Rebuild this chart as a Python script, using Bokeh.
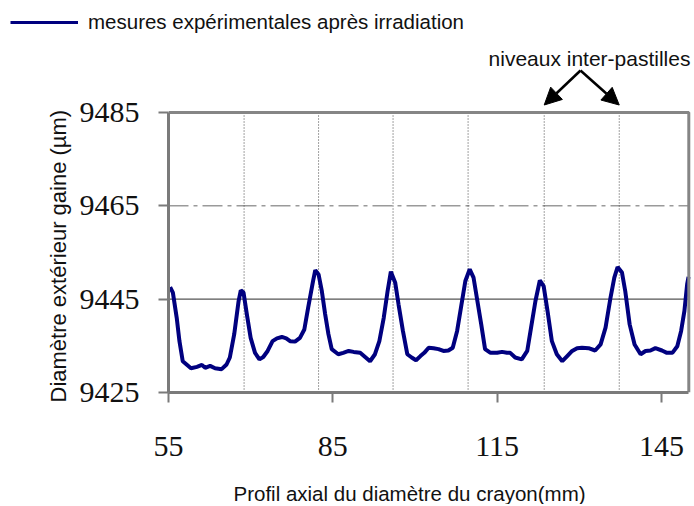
from bokeh.plotting import figure
from bokeh.layouts import column
from bokeh.models import (Range1d, FixedTicker, Label, Arrow, NormalHead,
                          Legend, LegendItem, Title)
from bokeh.embed import file_html
from bokeh.resources import INLINE

# ---- data ----
position_mm = [55.3, 55.8, 56.5, 57.0, 57.6, 58.3, 59.1, 60.2, 61.1, 61.7, 62.6, 63.5,
               64.7, 65.6, 66.2, 67.0, 67.8, 68.2, 68.7, 69.3, 70.0, 70.8, 71.6, 72.3,
               73.1, 74.0, 74.8, 75.7, 76.5, 77.2, 78.1, 79.0, 79.8, 80.5, 81.4, 81.8,
               82.4, 83.0, 83.6, 84.2, 84.8, 86.0, 86.9, 87.9, 88.8, 90.0, 90.9, 91.8,
               92.7, 93.5, 94.3, 95.0, 95.6, 96.4, 97.0, 97.8, 98.6, 99.4, 100.2, 101.0,
               101.7, 102.5, 103.4, 104.3, 105.2, 106.1, 106.9, 107.7, 108.4, 109.2, 110.0,
               110.7, 111.3, 112.1, 112.8, 113.8, 115.0, 115.9, 116.8, 117.4, 118.3, 119.5,
               120.5, 121.2, 122.0, 122.8, 123.5, 124.2, 125.0, 125.9, 126.9, 127.8, 128.7,
               129.6, 130.5, 131.7, 132.9, 133.9, 134.8, 135.7, 136.4, 137.0, 137.8, 138.4,
               139.2, 140.1, 141.2, 142.1, 143.0, 143.9, 145.1, 146.0, 147.0, 147.9, 148.6,
               149.2, 149.7, 149.95]
diameter_um = [9447.6, 9446.4, 9441.0, 9436.0, 9431.7, 9431.0, 9430.2, 9430.5, 9430.9,
               9430.3, 9430.7, 9430.2, 9430.0, 9431.0, 9432.5, 9437.5, 9444.6, 9446.9,
               9446.4, 9441.8, 9436.7, 9433.5, 9432.1, 9432.6, 9433.9, 9436.0, 9436.6,
               9436.9, 9436.6, 9436.0, 9435.9, 9436.7, 9438.5, 9443.2, 9448.9, 9451.2,
               9450.3, 9446.7, 9441.8, 9437.5, 9434.3, 9433.2, 9433.5, 9433.9, 9433.7,
               9433.5, 9432.6, 9431.7, 9433.2, 9436.0, 9441.0, 9446.7, 9450.9, 9448.5,
               9443.9, 9438.2, 9433.2, 9432.5, 9431.9, 9432.8, 9433.5, 9434.6, 9434.5,
               9434.3, 9433.9, 9434.0, 9434.6, 9438.2, 9443.2, 9448.9, 9451.4, 9449.6,
               9445.3, 9439.6, 9434.3, 9433.5, 9433.5, 9433.7, 9433.5, 9433.5, 9432.5,
               9432.1, 9433.9, 9438.9, 9444.6, 9449.0, 9447.8, 9442.5, 9436.0, 9433.2,
               9431.7, 9432.8, 9433.9, 9434.5, 9434.6, 9434.5, 9434.0, 9435.3, 9438.9,
               9445.3, 9449.6, 9451.9, 9450.7, 9446.7, 9439.6, 9435.3, 9433.2, 9433.9,
               9434.0, 9434.5, 9434.0, 9433.5, 9433.5, 9434.9, 9438.2, 9442.5, 9448.2,
               9449.8]
inter_pellet_mm = [68.8, 82.4, 96.0, 109.7, 123.6, 137.3]
x_ticks = [55, 85, 115, 145]
y_ticks = [9425, 9445, 9465, 9485]
x_limits = [55, 150]
series_label = "mesures expérimentales après irradiation"
note_text = "niveaux inter-pastilles"
x_title = "Profil axial du diamètre du crayon(mm)"
y_title = "Diamètre extérieur gaine (µm)"

NAVY = "#00007f"
FRAME = "#858585"
serif = "Liberation Serif"
sans = "Liberation Sans"

W = 692
TOP_H = 36          # strip holding the legend (page 0..36)
MAIN_H = 438        # main chart (page 36..474)
BOTTOM_H = 30       # strip holding the x title (page 474..504)
BOX_TOP = 112 - TOP_H    # plot box top inside main canvas (px)
BOX_BOTTOM = 392 - TOP_H
PX_PER_MM = (688.3 - 168) / (x_limits[1] - x_limits[0])
PX_PER_UM = (BOX_BOTTOM - BOX_TOP) / (y_ticks[-1] - y_ticks[0])


def strip(height):
    f = figure(width=W, height=height, output_backend="svg", toolbar_location=None,
               title=None, x_axis_type=None, y_axis_type=None, min_border=0,
               x_range=Range1d(0, W), y_range=Range1d(height, 0))
    f.frame_align = False
    f.outline_line_color = None
    f.background_fill_color = "white"
    f.border_fill_color = "white"
    return f


# ---------- legend strip ----------
top = strip(TOP_H)
# legend proxy: the same series, lying outside this strip's view
legend_glyph = top.line(position_mm, diameter_um, line_color=NAVY, line_width=3)
legend = Legend(items=[LegendItem(label=series_label, renderers=[legend_glyph])],
                location=(10, 2), padding=0, margin=0, glyph_width=68,
                glyph_height=24, label_height=24, label_standoff=10,
                border_line_color=None, background_fill_alpha=0,
                label_text_font=sans, label_text_font_size="20.5px",
                label_text_color="#111111")
top.add_layout(legend)

# ---------- main chart ----------
x_end = x_limits[0] + (W - 168) / PX_PER_MM
y_end = y_ticks[0] + BOX_BOTTOM / PX_PER_UM
p = figure(width=W, height=MAIN_H, output_backend="svg", toolbar_location=None,
           title=None, x_range=Range1d(x_limits[0], x_end),
           y_range=Range1d(y_ticks[0], y_end),
           min_border_left=168, min_border_right=0, min_border_top=0,
           min_border_bottom=MAIN_H - BOX_BOTTOM)
p.frame_align = False
p.background_fill_color = "white"
p.border_fill_color = "white"
p.outline_line_color = None
p.xgrid.visible = False
p.ygrid.visible = False

for ax in (p.xaxis[0], p.yaxis[0]):
    ax.axis_line_color = "#7a7a7a"
    ax.axis_line_width = 3
    ax.major_tick_line_color = "#7a7a7a"
    ax.major_tick_line_width = 2
    ax.major_tick_in = 0
    ax.major_tick_out = 10
    ax.minor_tick_line_color = None
    ax.major_label_text_font = serif
    ax.major_label_text_font_size = "30px"
    ax.major_label_text_color = "#111111"

p.xaxis[0].ticker = FixedTicker(ticks=x_ticks)
p.yaxis[0].ticker = FixedTicker(ticks=y_ticks)
p.xaxis[0].bounds = (x_limits[0], x_limits[1])
p.yaxis[0].bounds = (y_ticks[0], y_ticks[-1])
p.xaxis[0].major_label_standoff = 34
p.yaxis[0].major_label_standoff = 19

# y title, placed along the plot box as in the reference
p.add_layout(Title(text=y_title, align="left", offset=-10, standoff=12,
                   text_font=sans, text_font_size="22px",
                   text_font_style="normal", text_color="#111111"), "left")

# reference lines inside the box
p.segment(x0=x_limits[0], y0=y_ticks[2], x1=x_limits[1], y1=y_ticks[2],
          line_color="#9a9a9a", line_width=1.5, line_dash="20 5 4 5")
p.segment(x0=x_limits[0], y0=y_ticks[1], x1=x_limits[1], y1=y_ticks[1],
          line_color="#555555", line_width=1.2)
p.segment(x0=inter_pellet_mm, y0=y_ticks[0], x1=inter_pellet_mm, y1=y_ticks[-1],
          line_color="#444444", line_width=1, line_dash="1 2")

# data series
p.line(position_mm, diameter_um, line_color=NAVY, line_width=4)

# top and right edges of the plot box
p.line(x=[x_limits[0], x_limits[1], x_limits[1]],
       y=[y_ticks[-1], y_ticks[-1], y_ticks[0]],
       line_color=FRAME, line_width=3)


# annotation: inter-pellet levels
def px_to_x(px):
    return x_limits[0] + (px - 168) / PX_PER_MM


def py_to_y(py):  # page pixel -> data
    return y_ticks[-1] + (112 - py) / PX_PER_UM


p.add_layout(Label(x=px_to_x(589), y=py_to_y(58), text=note_text,
                   text_align="center", text_baseline="middle", text_font=sans,
                   text_font_size="21px", text_color="#111111"))
for xt in (inter_pellet_mm[4], inter_pellet_mm[5]):
    p.add_layout(Arrow(x_start=px_to_x(580), y_start=py_to_y(70),
                       x_end=xt, y_end=py_to_y(104.5),
                       line_color="black", line_width=2.5,
                       end=NormalHead(size=17, fill_color="black",
                                      line_color="black")))

# ---------- x title strip ----------
bottom = strip(BOTTOM_H)
bottom.add_layout(Label(x=233, y=493 - 474, text=x_title, text_align="left",
                        text_baseline="middle", text_font=sans,
                        text_font_size="20.5px", text_color="#111111"))

layout = column(top, p, bottom)
open("out.html", "w").write(file_html(layout, INLINE))
